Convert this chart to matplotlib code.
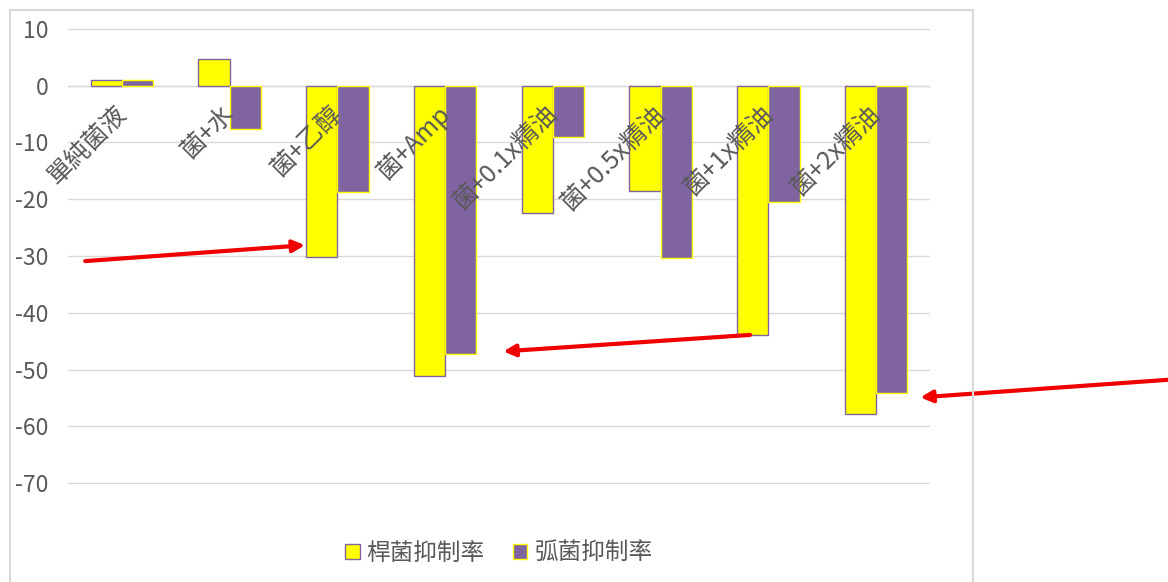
import numpy as np
import matplotlib.pyplot as plt
from matplotlib.patches import Rectangle

plt.rcParams['font.family'] = ['Noto Sans CJK TC', 'DejaVu Sans']

categories = ["單純菌液", "菌+水", "菌+乙醇", "菌+Amp",
              "菌+0.1x精油", "菌+0.5x精油", "菌+1x精油", "菌+2x精油"]
rod = [1.0, 4.7, -30.2, -51.1, -22.5, -18.6, -44.0, -57.9]
vibrio = [1.0, -7.7, -18.8, -47.2, -9.1, -30.4, -20.5, -54.2]
series_names = ["桿菌抑制率", "弧菌抑制率"]
yticks = [10, 0, -10, -20, -30, -40, -50, -60, -70]

yellow = '#FFFF00'
purple = '#8064A2'
txt = '#595959'

fig = plt.figure(figsize=(11.68, 5.82), dpi=100)
ax = fig.add_axes([0.0582, 0.1684, 0.7380, 0.7835])

x = np.arange(len(categories))
w = 0.29
ax.bar(x - w / 2, rod, w, color=yellow, edgecolor=purple, linewidth=1,
       label=series_names[0], zorder=3)
ax.bar(x + w / 2, vibrio, w, color=purple, edgecolor=yellow, linewidth=1,
       label=series_names[1], zorder=3)

ax.set_xlim(-0.5, len(categories) - 0.5)
ax.set_ylim(-70.15, 10.15)
ax.set_yticks(yticks)
ax.set_yticklabels([str(v) for v in yticks], fontsize=16.5, color=txt)
ax.tick_params(axis='y', length=0, pad=14)
ax.set_xticks([])
ax.grid(axis='y', color='#D9D9D9', linewidth=1, zorder=0)
for s in ax.spines.values():
    s.set_visible(False)
ax.axhline(0, color='#D9D9D9', linewidth=1, zorder=1)

# rotated category labels hanging from the zero line
for i, lab in enumerate(categories):
    ax.text(i - 0.08, -2.6, lab, rotation=45, rotation_mode='anchor',
            ha='right', va='top', fontsize=18, color=txt, zorder=4)

leg = ax.legend(loc='upper center', bbox_to_anchor=(0.5, -0.08), ncol=2,
                frameon=False, fontsize=17, handlelength=0.6,
                handleheight=0.6, columnspacing=1.2, handletextpad=0.3)
for t in leg.get_texts():
    t.set_color(txt)

# red arrows
arrows = [((-0.34, -30.9), (1.70, -28.1)),
          ((5.83, -43.9), (3.54, -46.8)),
          ((9.71, -51.8), (7.41, -54.9))]
for tail, head in arrows:
    ax.annotate('', xy=head, xytext=tail, annotation_clip=False,
                arrowprops=dict(arrowstyle='-|>,head_length=0.7,head_width=0.35',
                                color='#F00000', lw=3, shrinkA=0, shrinkB=0),
                zorder=5)

# chart area border
fig.patches.append(Rectangle((10 / 1168, -0.01), 963 / 1168, 1 - 10 / 582 + 0.01,
                             transform=fig.transFigure, fill=False,
                             edgecolor='#D9D9D9', linewidth=1.5))

fig.savefig('out.png', dpi=100)
